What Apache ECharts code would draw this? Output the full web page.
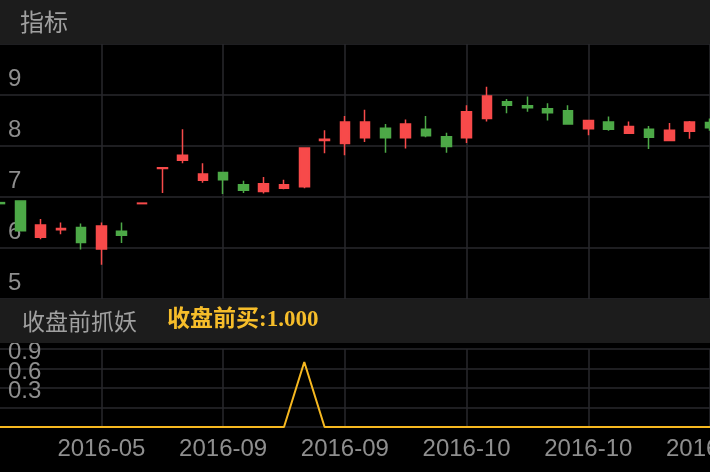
<!DOCTYPE html>
<html><head><meta charset="utf-8">
<script src="https://cdn.jsdelivr.net/npm/echarts@6/dist/echarts.min.js"></script>
<style>html,body{margin:0;padding:0;background:#000;}#c{width:710px;height:472px;}</style>
</head><body><div id="c"></div>
<script>
const dates = ['2016-04-26','2016-04-27','2016-04-28','2016-04-29','2016-05-03','2016-05-04','2016-05-05',
  '2016-09-07','2016-09-08','2016-09-09','2016-09-12','2016-09-13','2016-09-14','2016-09-19','2016-09-20',
  '2016-09-21','2016-09-22','2016-09-23','2016-09-26','2016-09-27','2016-09-28','2016-09-29','2016-09-30',
  '2016-10-10','2016-10-11','2016-10-12','2016-10-13','2016-10-14','2016-10-17','2016-10-18','2016-10-19',
  '2016-10-20','2016-10-21','2016-10-24','2016-10-25','2016-10-26'];
const opens  = [6.89,6.92,6.21,6.36,6.40,5.98,6.33,6.87,7.56,7.72,7.33,7.48,7.24,7.11,7.17,7.20,8.11,8.05,8.16,8.35,8.16,8.33,8.18,8.16,8.54,8.87,8.79,8.73,8.69,8.34,8.47,8.25,8.33,8.11,8.29,8.46];
const closes = [6.87,6.34,6.45,6.38,6.11,6.43,6.25,6.88,7.575,7.82,7.45,7.34,7.13,7.26,7.24,7.96,8.13,8.47,8.47,8.16,8.43,8.20,7.99,8.67,8.98,8.80,8.75,8.65,8.43,8.50,8.33,8.38,8.17,8.31,8.47,8.36];
const lows   = [6.87,6.34,6.17,6.27,5.97,5.67,6.10,6.87,7.08,7.66,7.28,7.06,7.08,7.07,7.15,7.17,7.86,7.82,8.08,7.87,7.95,8.17,7.87,8.06,8.48,8.64,8.67,8.50,8.43,8.21,8.30,8.24,7.94,8.11,8.14,8.30];
const highs  = [6.89,6.92,6.57,6.50,6.48,6.50,6.50,6.88,7.575,8.33,7.66,7.48,7.32,7.39,7.34,7.96,8.31,8.59,8.71,8.43,8.52,8.59,8.26,8.80,9.16,8.92,8.97,8.84,8.80,8.51,8.58,8.48,8.39,8.45,8.49,8.54];
const signal = [0,0,0,0,0,0,0,0,0,0,0,0,0,0,0,1,0,0,0,0,0,0,0,0,0,0,0,0,0,0,0,0,0,0,0,0];
const priceTicks = [5,6,7,8,9];
const signalTicks = [0.3,0.6,0.9];

const chart = echarts.init(document.getElementById('c'));
const candles = dates.map((d,i)=>[opens[i],closes[i],lows[i],highs[i]]);
const every6 = (i)=> i % 6 === 5;
const gridColor = '#28282d';
const textColor = '#8e8e8e';
const red = '#f74a4a', green = '#4da947';
const labelFont = {color:textColor,fontSize:24,fontFamily:'Liberation Sans'};

chart.setOption({
  backgroundColor:'#000',
  animation:false,
  grid:[{left:0,right:0,top:44,height:255,outerBoundsMode:'none',containLabel:false},
        {left:0,right:0,top:349,height:78,outerBoundsMode:'none',containLabel:false}],
  xAxis:[
    {type:'category',gridIndex:0,data:dates,boundaryGap:false,axisLine:{show:false},axisTick:{show:false},
     axisLabel:{show:false},splitLine:{show:true,interval:every6,lineStyle:{color:gridColor,width:1.5}}},
    {type:'category',gridIndex:1,data:dates,boundaryGap:false,axisLine:{show:false},axisTick:{show:false},
     axisLabel:Object.assign({show:true,interval:every6,formatter:v=>v.slice(0,7),margin:10},labelFont),
     splitLine:{show:true,interval:every6,lineStyle:{color:gridColor,width:1.5}}}
  ],
  yAxis:[
    {type:'value',gridIndex:0,min:5,max:10,interval:1,axisLine:{show:false},axisTick:{show:false},
     axisLabel:Object.assign({inside:true,margin:8,verticalAlign:'bottom',lineHeight:32,showMinLabel:true,showMaxLabel:true,
       formatter:v=>priceTicks.includes(v)?String(v):''},labelFont),
     splitLine:{show:true,lineStyle:{color:gridColor,width:1.5}}},
    {type:'value',gridIndex:1,min:0,max:1.2,interval:0.3,axisLine:{show:false},axisTick:{show:false},
     axisLabel:Object.assign({inside:true,margin:8,verticalAlign:'bottom',lineHeight:32,showMinLabel:true,showMaxLabel:true,
       formatter:v=>signalTicks.some(t=>Math.abs(t-v)<1e-6)?v.toFixed(1):''},labelFont),
     splitLine:{show:true,lineStyle:{color:gridColor,width:1.5}}}
  ],
  series:[
    {type:'candlestick',xAxisIndex:0,yAxisIndex:0,data:candles,barWidth:10,
     itemStyle:{color:red,color0:green,borderColor:red,borderColor0:green,borderColorDoji:red,borderWidth:1.5}},
    {type:'line',xAxisIndex:1,yAxisIndex:1,data:signal,symbol:'none',lineStyle:{color:'#f6b820',width:2},z:5}
  ],
  graphic:[
    {type:'rect',z:100,shape:{x:0,y:0,width:710,height:44},style:{fill:'#1c1c1c'}},
    {type:'text',z:101,x:20,y:22,style:{text:'指标',fill:'#a0a0a0',font:'24px "Noto Sans CJK SC"',verticalAlign:'middle'}},
    {type:'rect',z:100,shape:{x:0,y:299,width:710,height:44},style:{fill:'#1c1c1c'}},
    {type:'text',z:101,x:22,y:321,style:{text:'收盘前抓妖',fill:'#a0a0a0',font:'23px "Noto Sans CJK SC"',verticalAlign:'middle'}},
    {type:'text',z:101,x:167,y:320,style:{text:'收盘前买:1.000',fill:'#f6bd2a',font:'bold 23px "Liberation Serif", "Noto Sans CJK SC"',verticalAlign:'middle'}}
  ]
});
</script></body></html>
